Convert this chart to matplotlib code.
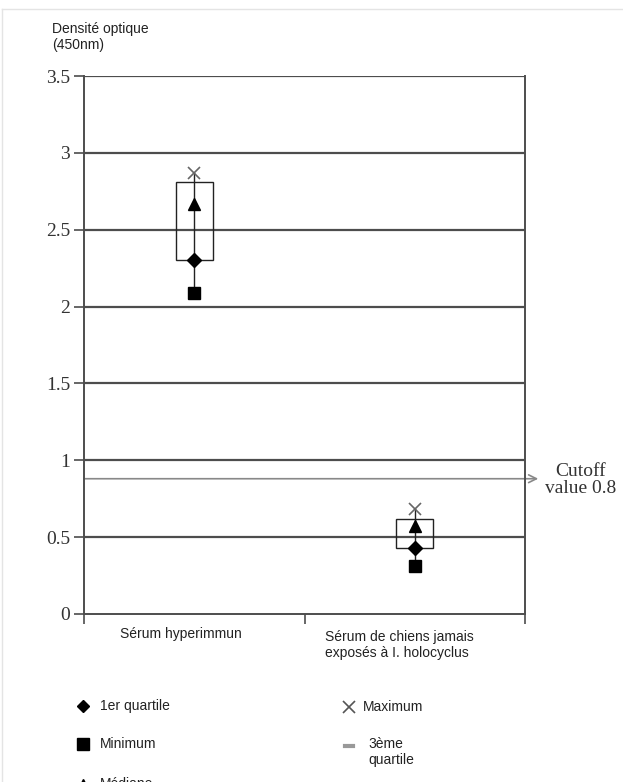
import matplotlib
matplotlib.use("Agg")
import matplotlib.pyplot as plt
from matplotlib.lines import Line2D

categories = ["Sérum hyperimmun", "Sérum de chiens jamais\nexposés à I. holocyclus"]
minimum = [2.09, 0.31]
q1 = [2.30, 0.43]
median = [2.67, 0.57]
q3 = [2.81, 0.62]
maximum = [2.87, 0.68]
cutoff = 0.88
cutoff_label = "Cutoff\nvalue 0.8"
yticks = [0, 0.5, 1, 1.5, 2, 2.5, 3, 3.5]
ytick_labels = ["0", "0.5", "1", "1.5", "2", "2.5", "3", "3.5"]

W, H = 623, 782
fig = plt.figure(figsize=(W / 100, H / 100), dpi=100)
L, R, T, B = 84, 525, 76, 614
ax = fig.add_axes([L / W, 1 - B / H, (R - L) / W, (B - T) / H])

# faint frame of the original picture
fig.add_artist(Line2D([2 / W, 1], [1 - 9 / H, 1 - 9 / H], color="#e4e4e4", lw=1,
                      transform=fig.transFigure))
fig.add_artist(Line2D([2 / W, 2 / W], [0, 1 - 9 / H], color="#e4e4e4", lw=1,
                      transform=fig.transFigure))

grid_c = "#4d4d4d"
ax.set_xlim(-0.5, 1.5)
ax.set_ylim(0, 3.5)
for y in yticks[1:]:
    ax.axhline(y, color=grid_c, lw=1.6, zorder=1)

for s in ["left", "right", "bottom"]:
    ax.spines[s].set_color(grid_c)
    ax.spines[s].set_linewidth(1.4)
ax.spines["top"].set_visible(False)

ax.set_yticks(yticks)
ax.set_yticklabels(ytick_labels, family="Liberation Serif", fontsize=14, color="#333333")
ax.tick_params(axis="y", direction="out", length=7, width=1.2, color=grid_c, pad=3)
ax.set_xticks([-0.5, 0.5, 1.5])
ax.set_xticklabels([])
ax.tick_params(axis="x", direction="out", length=7, width=1.2, color=grid_c)

xs = [0, 1]
bw = 0.17
for i, x in enumerate(xs):
    ax.plot([x, x], [minimum[i], maximum[i]], color="#222222", lw=1.0, zorder=3)
    rect = plt.Rectangle((x - bw / 2, q1[i]), bw, q3[i] - q1[i], facecolor="none",
                         edgecolor="#222222", lw=1.0, zorder=3)
    ax.add_patch(rect)
    ax.plot(x, minimum[i], marker="s", color="black", ms=9, zorder=4)
    ax.plot(x, q1[i], marker="D", color="black", ms=7, zorder=4)
    ax.plot(x, median[i], marker="^", color="black", ms=9, zorder=4)
    ax.plot(x, maximum[i], marker="x", color="#666666", ms=9, mew=1.2, zorder=4)

# cutoff line with arrow beyond axes
ax.annotate("", xy=(1.56, cutoff), xytext=(-0.5, cutoff), xycoords="data",
            arrowprops=dict(arrowstyle="->", color="#888888", lw=1.2,
                            shrinkA=0, shrinkB=0, mutation_scale=14),
            annotation_clip=False, zorder=2)
fig.text(581 / W, 1 - 480 / H, cutoff_label, family="Liberation Serif", fontsize=14,
         color="#333333", ha="center", va="center", linespacing=1.05)

# category labels
fig.text(181 / W, 1 - 634 / H, categories[0], family="Liberation Sans", fontsize=10,
         color="#222222", ha="center", va="center")
fig.text(325 / W, 1 - 645 / H, categories[1], family="Liberation Sans", fontsize=10,
         color="#222222", ha="left", va="center", linespacing=1.15)

# y-axis title
fig.text(52 / W, 1 - 37 / H, "Densité optique\n(450nm)", family="Liberation Sans",
         fontsize=10, color="#222222", ha="left", va="center", linespacing=1.15)

# legend
def leg(x, y, marker, ms, color, text, tx, **kw):
    fig.add_artist(Line2D([x / W], [1 - y / H], marker=marker, ms=ms, color=color,
                          transform=fig.transFigure, ls="none", **kw))
    fig.text(tx / W, 1 - y / H, text, family="Liberation Sans", fontsize=10,
             color="#222222", ha="left", va="center", linespacing=1.15)

leg(83, 706, "D", 6, "black", "1er quartile", 100)
leg(83, 744, "s", 8, "black", "Minimum", 100)
leg(83, 784, "^", 7, "black", "Médiane", 100)
leg(349, 707, "x", 8, "#555555", "Maximum", 363, mew=1.2)
fig.add_artist(Line2D([345 / W, 353 / W], [1 - 746 / H, 1 - 746 / H], color="#999999",
                      lw=3, transform=fig.transFigure))
fig.text(368 / W, 1 - 752 / H, "3ème\nquartile", family="Liberation Sans", fontsize=10,
         color="#222222", ha="left", va="center", linespacing=1.15)

fig.savefig("out.png", dpi=100)
